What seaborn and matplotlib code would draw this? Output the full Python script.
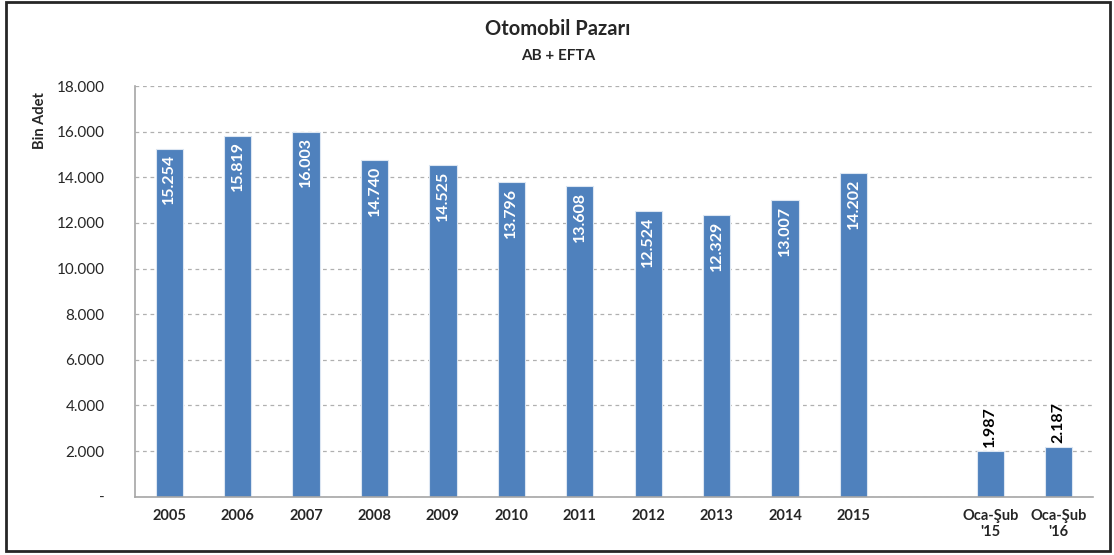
import pandas as pd
import matplotlib.pyplot as plt
import seaborn as sns
from matplotlib.ticker import FuncFormatter
from matplotlib.patches import Rectangle

# Data (thousand units)
periods = ['2005', '2006', '2007', '2008', '2009', '2010', '2011', '2012',
           '2013', '2014', '2015', "Oca-Şub\n'15", "Oca-Şub\n'16"]
sales = [15254, 15819, 16003, 14740, 14525, 13796, 13608, 12524,
         12329, 13007, 14202, 1987, 2187]
# empty slot between the yearly and the Jan-Feb bars
order = periods[:11] + [' '] + periods[11:]

bar_color = '#4F81BD'


def tr_fmt(v):
    # Turkish thousands separator
    return f'{v:,.0f}'.replace(',', '.')


df = pd.DataFrame({'Dönem': periods, 'Satış': sales})

sns.set_style('white')
plt.rcParams['font.family'] = ['Lato', 'DejaVu Sans']

fig = plt.figure(figsize=(11.14, 5.55), dpi=100)
ax = fig.add_axes([0.1212, 0.105, 0.8599, 0.740])

sns.barplot(data=df, x='Dönem', y='Satış', order=order, color=bar_color,
            width=0.4, edgecolor='#dce6f2', linewidth=0.8, saturation=1, ax=ax)

ax.set_xlim(-0.5, len(order) - 0.5)
ax.set_ylim(0, 18000)
ax.set_yticks(range(0, 18001, 2000))
ax.yaxis.set_major_formatter(FuncFormatter(lambda y, _: '-' if y == 0 else tr_fmt(y)))
ax.grid(axis='y', linestyle=(0, (3, 3)), color='#b0b0b0', linewidth=0.9)
ax.set_axisbelow(True)

for s in ['top', 'right']:
    ax.spines[s].set_visible(False)
for s in ['left', 'bottom']:
    ax.spines[s].set_color('#a6a6a6')
    ax.spines[s].set_linewidth(1.2)

ax.tick_params(axis='y', length=0, labelsize=11, pad=22, colors='#262626')
ax.tick_params(axis='x', length=0, labelsize=10.5, pad=9)
for lbl in ax.get_xticklabels():
    lbl.set_fontweight('bold')

ax.set_xlabel('')
ax.set_ylabel('Bin Adet', fontsize=10.5, fontweight='bold')
ax.yaxis.set_label_coords(-0.092, 0.915)

# value labels, white inside tall bars, black above short ones
for p in ax.patches:
    h = p.get_height()
    if pd.isna(h) or h == 0:
        continue
    xc = p.get_x() + p.get_width() / 2
    if h > 4000:
        ax.annotate(tr_fmt(h), (xc, h), xytext=(0, -4), textcoords='offset points',
                    rotation=90, ha='center', va='top', color='white',
                    fontsize=11.5, fontweight='bold')
    else:
        ax.annotate(tr_fmt(h), (xc, h), xytext=(0, 3), textcoords='offset points',
                    rotation=90, ha='center', va='bottom', color='black',
                    fontsize=11.5, fontweight='bold')

fig.text(0.501, 0.948, 'Otomobil Pazarı', ha='center', va='center',
         fontsize=14.5, fontweight='bold')
fig.text(0.501, 0.899, 'AB + EFTA', ha='center', va='center',
         fontsize=11, fontweight='bold')

# outer frame like the source screenshot
fig.patches.append(Rectangle((6 / 1114, 4 / 555), 1104 / 1114, 549 / 555,
                             transform=fig.transFigure, fill=False,
                             edgecolor='#262626', linewidth=2))

fig.savefig('out.png', dpi=100)
